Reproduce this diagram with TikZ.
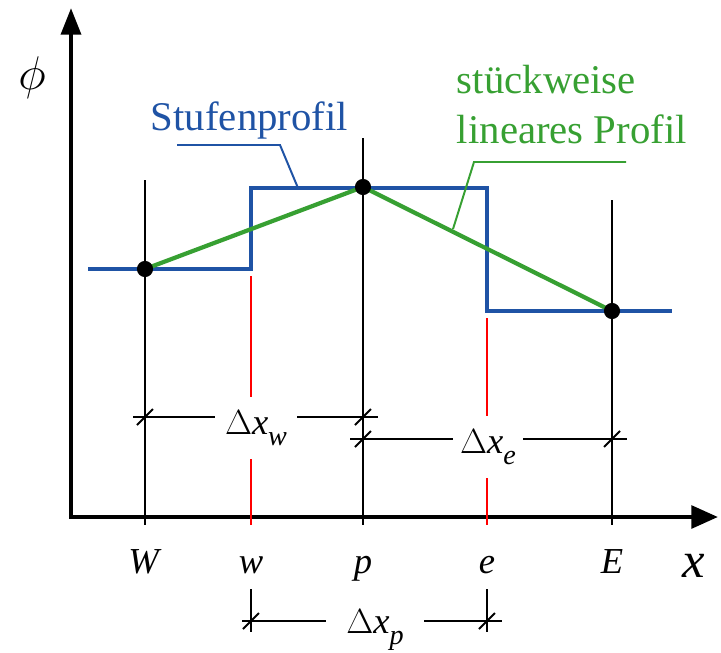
\documentclass[tikz,border=0pt]{standalone}
\usepackage{fontspec}
\setmainfont{Liberation Serif}
\usetikzlibrary{arrows.meta}

\definecolor{stufenblau}{RGB}{31,83,165}
\definecolor{lingruen}{RGB}{55,160,50}

\newcommand{\dx}[1]{$\Delta$\textit{x}\raisebox{-8pt}{\fontsize{20}{22}\selectfont\textit{#1}}}

\begin{document}
\begin{tikzpicture}[x=0.025cm, y=-0.025cm, line join=miter, font=\fontsize{26}{30}\selectfont,
	achse/.style={line width=3.2pt},
	hilfslinie/.style={line width=1.2pt},
	grenzlinie/.style={line width=1.2pt, red},
	masslinie/.style={line width=1.3pt},
	stufe/.style={line width=2.7pt, stufenblau},
	linear/.style={line width=3pt, lingruen},
	punkt/.style={circle, fill=black, inner sep=0pt, minimum size=11.5pt},
	masstext/.style={fill=white, inner sep=0pt, minimum height=44pt}]
	\useasboundingbox (0,0) rectangle (721,652);
	
	% STÜTZSTELLEN
	\coordinate (W) at (145,269);
	\coordinate (P) at (363,187);
	\coordinate (E) at (612,311);
	
	% ACHSEN
	\draw[achse, {Triangle[length=19pt, width=14pt]}-{Triangle[length=19pt, width=16pt]}] (71,8) -- (71,517) -- (718,517);
	\node[scale=1.35] (phi) at (32,78) {$\phi$};
	\node[anchor=base] (x) at (694,577) {\fontsize{36}{40}\selectfont\textit{x}};
	
	% GITTERLINIEN
	\draw[hilfslinie] (145,180) -- (145,525);
	\draw[hilfslinie] (363,138) -- (363,525);
	\draw[hilfslinie] (612,200) -- (612,525);
	\draw[grenzlinie] (251,276) -- (251,525);
	\draw[grenzlinie] (487,318) -- (487,525);
	\draw[hilfslinie] (251,589) -- (251,632);
	\draw[hilfslinie] (487,589) -- (487,632);
	
	\node[anchor=base] (lW) at (145,573) {\textit{W}};
	\node[anchor=base] (lw) at (251,573) {\textit{w}};
	\node[anchor=base] (lp) at (363,573) {\textit{p}};
	\node[anchor=base] (le) at (487,573) {\textit{e}};
	\node[anchor=base] (lE) at (612,573) {\textit{E}};
	
	% MASSLINIEN
	\coordinate (mw1) at (133,417); \coordinate (mw2) at (378,417);
	\coordinate (me1) at (350,439); \coordinate (me2) at (627,439);
	\coordinate (mp1) at (242,621); \coordinate (mp2) at (502,621);
	\draw[masslinie] (mw1) -- (mw2);
	\draw[masslinie] (me1) -- (me2);
	\draw[masslinie] (mp1) -- (mp2);
	\foreach \pt in {(145,417), (363,417), (363,439), (612,439), (251,621), (487,621)}
		\draw[masslinie] \pt ++(-8,8) -- ++(16,-16);
	\node[masstext, minimum width=58pt] (dxw) at (256,428) {\dx{w}};
	\node[masstext, minimum width=50pt] (dxe) at (488,447) {\dx{e}};
	\node[masstext, minimum width=69pt, minimum height=20pt] (dxp) at (375,630) {\dx{p}};
	
	% PROFILE
	\draw[stufe] (88,269) -- (251,269) -- (251,188) -- (487,188) -- (487,311) -- (672,311);
	\draw[linear] (W) -- (P) -- (E);
	\foreach \k in {W,P,E}
		\node[punkt] (d\k) at (\k) {};
	
	% BESCHRIFTUNG
	\node[anchor=base west, stufenblau, font=\fontsize{29}{34}\selectfont] (stufentext) at (146,130) {Stufenprofil};
	\draw[stufenblau, line width=1.4pt] (177,145) -- (280,145) -- (298,188);
	\node[anchor=base west, lingruen, font=\fontsize{29}{34}\selectfont] (lintext1) at (452,93) {stückweise};
	\node[anchor=base west, lingruen, font=\fontsize{29}{34}\selectfont] (lintext2) at (452,143) {lineares Profil};
	\draw[lingruen, line width=1.4pt] (626,162) -- (474,162) -- (453,229);
\end{tikzpicture}
\end{document}
